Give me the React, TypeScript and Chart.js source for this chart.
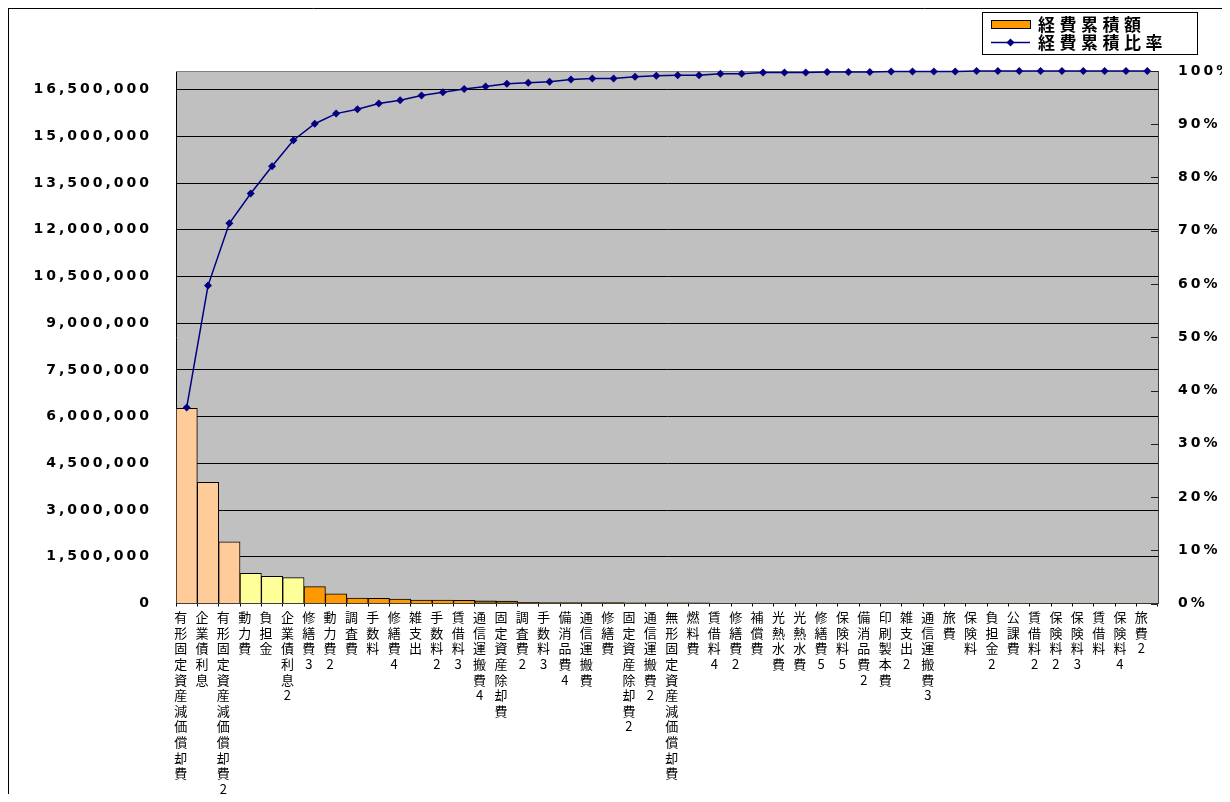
import React, { useEffect, useRef } from 'react';
import { Chart, registerables } from 'chart.js';

Chart.register(...registerables);

const categories: string[] = [
  '有形固定資産減価償却費', '企業債利息', '有形固定資産減価償却費2', '動力費', '負担金',
  '企業債利息2', '修繕費3', '動力費2', '調査費', '手数料', '修繕費4', '雑支出', '手数料2',
  '賃借料3', '通信運搬費4', '固定資産除却費', '調査費2', '手数料3', '備消品費4', '通信運搬費',
  '修繕費', '固定資産除却費2', '通信運搬費2', '無形固定資産減価償却費', '燃料費', '賃借料4',
  '修繕費2', '補償費', '光熱水費', '光熱水費', '修繕費5', '保険料5', '備消品費2', '印刷製本費',
  '雑支出2', '通信運搬費3', '旅費', '保険料', '負担金2', '公課費', '賃借料2', '保険料2',
  '保険料3', '賃借料', '保険料4', '旅費2',
];

// 経費累積額 (yen)
const amounts: number[] = [
  6270000, 3890000, 1980000, 970000, 870000, 830000, 540000, 310000, 175000, 170000,
  140000, 112000, 110000, 105000, 85000, 80000, 35000, 32000, 30000, 28000,
  26000, 24000, 22000, 20000, 18000, 16000, 15000, 13000, 12000, 11000,
  10000, 9000, 8000, 7000, 6000, 5000, 5000, 4000, 4000, 3000,
  3000, 2000, 2000, 2000, 1000, 1000,
];

// 経費累積比率 (%)
const ratios: number[] = [
  36.8, 59.7, 71.4, 77.0, 82.1, 87.0, 90.1, 92.0, 92.8, 93.9,
  94.5, 95.4, 96.0, 96.6, 97.1, 97.6, 97.8, 98.0, 98.4, 98.6,
  98.6, 98.9, 99.1, 99.2, 99.2, 99.5, 99.5, 99.7, 99.7, 99.7,
  99.8, 99.8, 99.8, 99.9, 99.9, 99.9, 99.9, 100, 100, 100,
  100, 100, 100, 100, 100, 100,
];

const barColors: string[] = [
  '#FFCC99', '#FFCC99', '#FFCC99',
  '#FFFF99', '#FFFF99', '#FFFF99',
  '#FF9900', '#FF9900', '#FF9900', '#FF9900', '#FF9900', '#FF9900', '#FF9900', '#FF9900',
  ...Array(32).fill('#996600'),
];

const leftMax = 17100000;
const leftTicks: number[] = [
  0, 1500000, 3000000, 4500000, 6000000, 7500000, 9000000, 10500000,
  12000000, 13500000, 15000000, 16500000,
];
const rightTicks: number[] = [0, 10, 20, 30, 40, 50, 60, 70, 80, 90, 100];
const legendLabels: string[] = ['経費累積額', '経費累積比率'];

const SPACING = '3px';

const framePlugin = {
  id: 'frame',
  beforeUpdate(chart: any) { chart.ctx.letterSpacing = SPACING; },
  beforeLayout(chart: any) { chart.ctx.letterSpacing = SPACING; },
  beforeDraw(chart: any) {
    const ctx = chart.ctx;
    ctx.letterSpacing = SPACING;
    const a = chart.chartArea;
    ctx.save();
    ctx.fillStyle = '#FFFFFF';
    ctx.fillRect(0, 0, chart.width, chart.height);
    ctx.fillStyle = '#C0C0C0';
    ctx.fillRect(a.left, a.top, a.right - a.left, a.bottom - a.top);
    ctx.strokeStyle = '#000';
    ctx.lineWidth = 1;
    ctx.beginPath();
    ctx.moveTo(0, 0.5);
    ctx.lineTo(chart.width, 0.5);
    ctx.moveTo(0.5, 0);
    ctx.lineTo(0.5, chart.height);
    ctx.stroke();
    ctx.restore();
  },
  beforeDatasetsDraw(chart: any) {
    const ctx = chart.ctx;
    const a = chart.chartArea;
    const y1 = chart.scales.y1;
    ctx.save();
    ctx.strokeStyle = '#808080';
    ctx.lineWidth = 1;
    ctx.beginPath();
    ctx.moveTo(a.left, Math.round(a.top) + 0.5);
    ctx.lineTo(a.right, Math.round(a.top) + 0.5);
    ctx.stroke();
    ctx.strokeStyle = '#202020';
    ctx.beginPath();
    rightTicks.forEach((v) => {
      const py = Math.round(y1.getPixelForValue(v)) + 0.5;
      ctx.moveTo(a.right - 7, py);
      ctx.lineTo(a.right, py);
    });
    ctx.stroke();
    ctx.restore();
  },
  afterDraw(chart: any) {
    const ctx = chart.ctx;
    ctx.save();
    ctx.letterSpacing = '4.5px';
    ctx.fillStyle = '#FFFFFF';
    ctx.fillRect(974.5, 4.5, 215, 42);
    ctx.strokeStyle = '#000';
    ctx.lineWidth = 1;
    ctx.strokeRect(974.5, 4.5, 215, 42);
    ctx.fillStyle = '#FF9900';
    ctx.fillRect(983.5, 12.5, 39, 8);
    ctx.strokeRect(983.5, 12.5, 39, 8);
    ctx.strokeStyle = '#000080';
    ctx.lineWidth = 1.5;
    ctx.beginPath();
    ctx.moveTo(983, 34.5);
    ctx.lineTo(1022, 34.5);
    ctx.stroke();
    ctx.fillStyle = '#000080';
    ctx.beginPath();
    ctx.moveTo(1002.5, 30.5);
    ctx.lineTo(1006.5, 34.5);
    ctx.lineTo(1002.5, 38.5);
    ctx.lineTo(998.5, 34.5);
    ctx.closePath();
    ctx.fill();
    ctx.fillStyle = '#000';
    ctx.font = 'bold 17px "Noto Sans CJK JP", sans-serif';
    ctx.textAlign = 'left';
    ctx.textBaseline = 'middle';
    ctx.fillText(legendLabels[0], 1030, 16.5);
    ctx.fillText(legendLabels[1], 1030, 35);
    ctx.restore();
  },
};

export default function App() {
  const canvasRef = useRef<HTMLCanvasElement | null>(null);

  useEffect(() => {
    document.documentElement.style.overflow = 'hidden';
    document.body.style.overflow = 'hidden';
    const canvas = canvasRef.current;
    if (!canvas) return;
    const yFont = { family: '"DejaVu Sans", sans-serif', size: 14, weight: 'bold' as const };
    const chart = new Chart(canvas, {
      type: 'bar',
      data: {
        labels: categories.map((c) => [...c]),
        datasets: [
          {
            type: 'line',
            label: legendLabels[1],
            data: ratios,
            yAxisID: 'y1',
            borderColor: '#000080',
            backgroundColor: '#000080',
            borderWidth: 1.5,
            pointStyle: 'rectRot',
            pointRadius: 4,
            pointBorderWidth: 0,
            pointBackgroundColor: '#000080',
            tension: 0,
            order: 0,
            clip: false,
          } as any,
          {
            type: 'bar',
            label: legendLabels[0],
            data: amounts,
            yAxisID: 'y',
            backgroundColor: barColors,
            borderColor: '#000000',
            borderWidth: 1,
            categoryPercentage: 1,
            barPercentage: 1,
            order: 1,
          } as any,
        ],
      },
      options: {
        animation: false,
        responsive: false,
        devicePixelRatio: 1,
        layout: { padding: { top: 63, left: 0, right: 0, bottom: 0 } },
        plugins: {
          legend: { display: false },
          tooltip: { enabled: false },
          title: { display: false },
        },
        scales: {
          x: {
            type: 'category',
            offset: true,
            afterFit: (s: any) => { s.height = 190.5; },
            grid: {
              display: true,
              drawOnChartArea: false,
              drawTicks: true,
              tickLength: 3,
              color: '#000',
              offset: true,
            },
            border: { display: true, color: '#404040', width: 1 },
            ticks: {
              autoSkip: false,
              maxRotation: 0,
              minRotation: 0,
              padding: 3,
              labelOffset: -4.5,
              color: '#000',
              font: { family: '"Noto Sans CJK JP", sans-serif', size: 13, lineHeight: 1.2 },
            },
          },
          y: {
            type: 'linear',
            position: 'left',
            min: 0,
            max: leftMax,
            afterBuildTicks: (s: any) => { s.ticks = leftTicks.map((v) => ({ value: v })); },
            afterFit: (s: any) => { s.width = 168; },
            grid: { color: '#000', lineWidth: 1, drawTicks: false },
            border: { display: true, color: '#000', width: 1 },
            ticks: {
              padding: 24,
              color: '#000',
              font: yFont,
              callback: (v: any) => Number(v).toLocaleString('en-US'),
            },
          },
          y1: {
            type: 'linear',
            position: 'right',
            min: 0,
            max: 100,
            afterBuildTicks: (s: any) => { s.ticks = rightTicks.map((v) => ({ value: v })); },
            afterFit: (s: any) => { s.width = 72; },
            grid: { drawOnChartArea: false, drawTicks: false },
            border: { display: true, color: '#404040', width: 1 },
            ticks: {
              padding: 20,
              color: '#000',
              font: yFont,
              callback: (v: any) => v + '%',
            },
          },
        },
      },
      plugins: [framePlugin],
    });
    return () => chart.destroy();
  }, []);

  return (
    <div style={{ width: 1222, height: 786 }}>
      <canvas ref={canvasRef} width={1222} height={786} style={{ display: 'block' }} />
    </div>
  );
}
